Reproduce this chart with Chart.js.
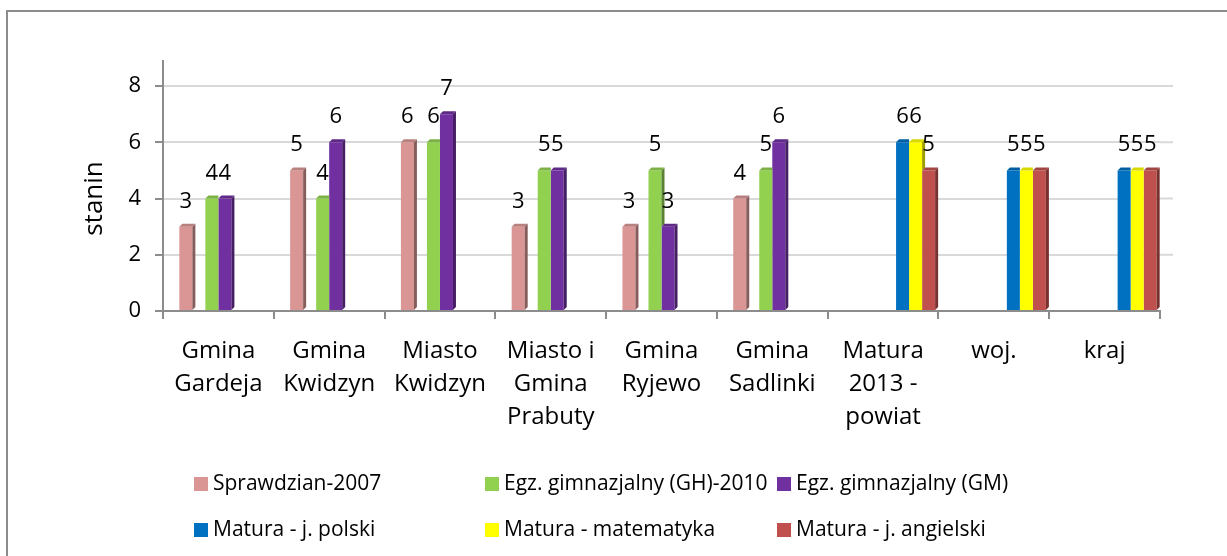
<!DOCTYPE html>
<html>
<head>
<meta charset="utf-8">
<script src="https://cdn.jsdelivr.net/npm/chart.js@4.4.0/dist/chart.umd.min.js"></script>
<style>
  html, body { margin: 0; padding: 0; background: #fff; overflow: hidden; }
  #wrap { position: relative; width: 1227px; height: 556px; }
  #frame { position: absolute; left: 6px; top: 10px; width: 1300px; height: 600px;
           border: 2px solid #8c8c8c; box-sizing: border-box; }
  canvas { position: absolute; left: 0; top: 0; }
  .leg { position: absolute; font-family: 'Open Sans', sans-serif; font-size: 21px; color: #000;
         white-space: nowrap; line-height: 24px; }
  .leg i { display: inline-block; width: 14px; height: 14px; vertical-align: -1px; margin-right: 5px; }
</style>
</head>
<body>
<div id="wrap">
  <div id="frame"></div>
  <canvas id="chart" width="1227" height="556"></canvas>
</div>
<script>
// kategorie (osie X)
const categories = [
    ['Gmina', 'Gardeja'],
    ['Gmina', 'Kwidzyn'],
    ['Miasto', 'Kwidzyn'],
    ['Miasto i', 'Gmina', 'Prabuty'],
    ['Gmina', 'Ryjewo'],
    ['Gmina', 'Sadlinki'],
    ['Matura', '2013 -', 'powiat'],
    'woj.',
    'kraj'
];

// serie (staniny)
const sprawdzian2007 = [3, 5, 6, 3, 3, 4, null, null, null];
const egzGH2010      = [4, 4, 6, 5, 5, 5, null, null, null];
const egzGM          = [4, 6, 7, 5, 3, 6, null, null, null];
const maturaPolski   = [null, null, null, null, null, null, 6, 5, 5];
const maturaMatma    = [null, null, null, null, null, null, 6, 5, 5];
const maturaAngielski= [null, null, null, null, null, null, 5, 5, 5];

const seriesNames = ['Sprawdzian-2007', 'Egz. gimnazjalny (GH)-2010', 'Egz. gimnazjalny (GM)',
                     'Matura - j. polski', 'Matura - matematyka', 'Matura - j. angielski'];
const seriesData = [sprawdzian2007, egzGH2010, egzGM, maturaPolski, maturaMatma, maturaAngielski];
const seriesColors = ['#D99694', '#92D050', '#7030A0', '#0070C0', '#FFFF00', '#C0504D'];

const yTicks = [0, 2, 4, 6, 8];

const FONT = "'Open Sans', sans-serif";

// Excel zostawia puste miejsca (przed seriami i za pierwsza seria) -> puste zbiory danych
const emptySlot = categories.map(() => null);

const datasets = [{ label: '', data: emptySlot, backgroundColor: 'rgba(0,0,0,0)', shade: false }];
seriesData.forEach((d, i) => {
    datasets.push({
        label: seriesNames[i],
        data: d,
        backgroundColor: seriesColors[i],
        borderWidth: 0,
        shade: true
    });
    if (i === 0) {
        datasets.push({ label: '', data: emptySlot, backgroundColor: 'rgba(0,0,0,0)', shade: false });
    }
});

function darken(hex, f) {
    const n = parseInt(hex.slice(1), 16);
    const r = Math.round(((n >> 16) & 255) * f);
    const g = Math.round(((n >> 8) & 255) * f);
    const b = Math.round((n & 255) * f);
    return `rgb(${r},${g},${b})`;
}

// =======================================================================
// efekt 3D (boki i gory slupkow) + etykiety wartosci
// =======================================================================
const bar3d = {
    id: 'bar3d',
    beforeDatasetsDraw(chart) {
        // linie siatki wychodza troche za prawa krawedz (tylna sciana 3D)
        const ctx = chart.ctx;
        const a = chart.chartArea;
        const ys = chart.scales.y;
        ctx.save();
        ctx.strokeStyle = '#d9d9d9';
        ctx.lineWidth = 2;
        yTicks.forEach(v => {
            if (v === 0) return;
            const py = ys.getPixelForValue(v);
            ctx.beginPath();
            ctx.moveTo(a.right, py);
            ctx.lineTo(a.right + 13, py);
            ctx.stroke();
        });
        ctx.restore();
    },
    afterDatasetsDraw(chart) {
        const ctx = chart.ctx;
        const d = 3;
        ctx.save();
        chart.data.datasets.forEach((ds, di) => {
            if (!ds.shade) return;
            const meta = chart.getDatasetMeta(di);
            meta.data.forEach((el, j) => {
                const v = ds.data[j];
                if (v === null || v === undefined) return;
                const L = el.x - el.width / 2, R = el.x + el.width / 2;
                const y = el.y, base = el.base;
                // sasiad po prawej
                let nb = null;
                const next = chart.data.datasets[di + 1];
                if (next && next.shade && next.data[j] !== null) nb = chart.getDatasetMeta(di + 1).data[j];
                // bok
                const sideBottom = nb ? Math.min(base, nb.y) : base;
                if (sideBottom > y) {
                    ctx.fillStyle = darken(ds.backgroundColor, 0.62);
                    ctx.beginPath();
                    ctx.moveTo(R, y);
                    ctx.lineTo(R + d, y - d);
                    ctx.lineTo(R + d, sideBottom - d);
                    ctx.lineTo(R, sideBottom);
                    ctx.closePath();
                    ctx.fill();
                }
                // gora
                ctx.fillStyle = darken(ds.backgroundColor, 0.85);
                ctx.beginPath();
                ctx.moveTo(L, y);
                ctx.lineTo(L + d, y - d);
                if (nb && nb.y <= y) {
                    ctx.lineTo(R, y - d);
                } else {
                    ctx.lineTo(R + d, y - d);
                }
                ctx.lineTo(R, y);
                ctx.closePath();
                ctx.fill();
            });
        });
        // etykiety
        ctx.fillStyle = '#000';
        ctx.font = `22px ${FONT}`;
        ctx.textAlign = 'center';
        ctx.textBaseline = 'alphabetic';
        chart.data.datasets.forEach((ds, di) => {
            if (!ds.shade) return;
            chart.getDatasetMeta(di).data.forEach((el, j) => {
                const v = ds.data[j];
                if (v === null || v === undefined) return;
                ctx.fillText(String(v), el.x, el.y - 19);
            });
        });
        // przedluzenie osi Y w gore (tylna sciana)
        const a = chart.chartArea;
        ctx.strokeStyle = '#8c8c8c';
        ctx.lineWidth = 2;
        ctx.beginPath();
        ctx.moveTo(a.left, a.top);
        ctx.lineTo(a.left, a.top - 26);
        ctx.stroke();
        ctx.restore();
    }
};

new Chart(document.getElementById('chart'), {
    type: 'bar',
    data: { labels: categories, datasets: datasets },
    options: {
        responsive: false,
        animation: false,
        categoryPercentage: 0.94,
        barPercentage: 1.0,
        layout: { padding: { left: 0, top: 86, right: 67, bottom: 0 } },
        scales: {
            x: {
                grid: { drawOnChartArea: false, drawTicks: true, tickLength: 8, tickColor: '#8c8c8c', lineWidth: 2 },
                border: { color: '#8c8c8c', width: 2 },
                ticks: { color: '#000', font: { family: FONT, size: 24, lineHeight: 1.375 }, maxRotation: 0, autoSkip: false, padding: 16 },
                afterFit(s) { s.height = 245; }
            },
            y: {
                min: 0,
                max: 8,
                afterBuildTicks(s) { s.ticks = yTicks.map(v => ({ value: v })); },
                grid: { color: '#d9d9d9', lineWidth: 2, tickLength: 8, tickColor: '#8c8c8c' },
                border: { color: '#8c8c8c', width: 2 },
                ticks: { color: '#000', font: { family: FONT, size: 22 }, padding: 14 },
                title: { display: true, text: 'stanin', color: '#000', font: { family: FONT, size: 26 }, padding: { top: 79, bottom: 0 } },
                afterFit(s) { s.width = 163; }
            }
        },
        plugins: {
            legend: { display: false },
            tooltip: { enabled: false }
        }
    },
    plugins: [bar3d]
});

// legenda (3 kolumny, 2 wiersze jak w Excelu)
const legX = [194, 485, 777];
const legY = [470, 516];
const wrap = document.getElementById('wrap');
seriesNames.forEach((name, i) => {
    const div = document.createElement('div');
    div.className = 'leg';
    div.style.left = legX[i % 3] + 'px';
    div.style.top = legY[Math.floor(i / 3)] + 'px';
    const box = document.createElement('i');
    box.style.background = seriesColors[i];
    div.appendChild(box);
    div.appendChild(document.createTextNode(name));
    wrap.appendChild(div);
});
</script>
</body>
</html>
